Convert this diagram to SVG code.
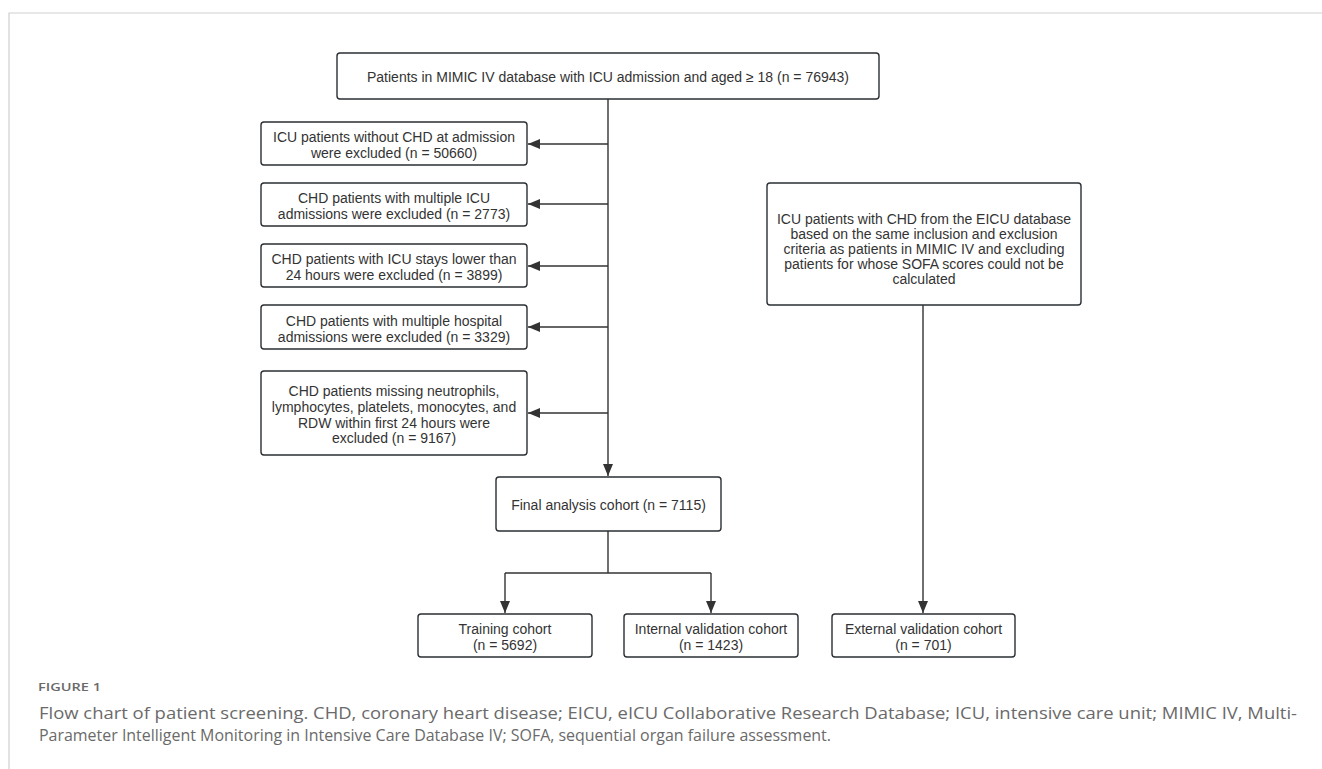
<svg xmlns="http://www.w3.org/2000/svg" width="1322" height="769" viewBox="0 0 1322 769">
<defs>
<style>
.box{fill:#fff;stroke:#2b2f33;stroke-width:1.4}
.t{font-family:"Liberation Sans",Arial,sans-serif;font-size:14px;fill:#333;text-anchor:middle}
.ln{fill:none;stroke:#333;stroke-width:1.4}
.cap{font-family:"Open Sans","Liberation Sans",sans-serif;fill:#6a6a6a}
</style>
<marker id="ah" viewBox="0 0 12 10" refX="12" refY="5" markerWidth="12" markerHeight="10" markerUnits="userSpaceOnUse" orient="auto">
<path d="M0,0 L12,5 L0,10 Z" fill="#333"/>
</marker>
</defs>
<rect width="1322" height="769" fill="#fff"/>
<path d="M9,769 V13 H1322" fill="none" stroke="#cfcfcf" stroke-width="1.2"/>

<g id="connectors">
<path class="ln" d="M608,99 V476" marker-end="url(#ah)"/>
<path class="ln" d="M608,144 H528" marker-end="url(#ah)"/>
<path class="ln" d="M608,204 H528" marker-end="url(#ah)"/>
<path class="ln" d="M608,266 H528" marker-end="url(#ah)"/>
<path class="ln" d="M608,327 H528" marker-end="url(#ah)"/>
<path class="ln" d="M608,413 H528" marker-end="url(#ah)"/>
<path class="ln" d="M608,531 V573"/>
<path class="ln" d="M505,573 H711"/>
<path class="ln" d="M505,573 V613" marker-end="url(#ah)"/>
<path class="ln" d="M711,573 V613" marker-end="url(#ah)"/>
<path class="ln" d="M923,305 V613" marker-end="url(#ah)"/>
</g>

<g id="n-top">
<rect class="box" x="337" y="53" width="542" height="46" rx="3"/>
<text class="t" x="608" y="82">Patients in MIMIC IV database with ICU admission and aged ≥ 18 (n = 76943)</text>
</g>
<g id="n-ex1">
<rect class="box" x="261" y="122" width="266" height="43" rx="3"/>
<text class="t" x="394" y="142">ICU patients without CHD at admission</text>
<text class="t" x="394" y="158">were excluded (n = 50660)</text>
</g>
<g id="n-ex2">
<rect class="box" x="261" y="183" width="266" height="43" rx="3"/>
<text class="t" x="394" y="203">CHD patients with multiple ICU</text>
<text class="t" x="394" y="219">admissions were excluded (n = 2773)</text>
</g>
<g id="n-ex3">
<rect class="box" x="261" y="244" width="266" height="43" rx="3"/>
<text class="t" x="394" y="264">CHD patients with ICU stays lower than</text>
<text class="t" x="394" y="280">24 hours were excluded (n = 3899)</text>
</g>
<g id="n-ex4">
<rect class="box" x="261" y="305" width="266" height="44" rx="3"/>
<text class="t" x="394" y="325.5">CHD patients with multiple hospital</text>
<text class="t" x="394" y="341.5">admissions were excluded (n = 3329)</text>
</g>
<g id="n-ex5">
<rect class="box" x="261" y="371" width="266" height="84" rx="3"/>
<text class="t" x="394" y="396">CHD patients missing neutrophils,</text>
<text class="t" x="394" y="412">lymphocytes, platelets, monocytes, and</text>
<text class="t" x="394" y="427.5">RDW within first 24 hours were</text>
<text class="t" x="394" y="443">excluded (n = 9167)</text>
</g>
<g id="n-final">
<rect class="box" x="496" y="477" width="225" height="54" rx="3"/>
<text class="t" x="608.5" y="510">Final analysis cohort (n = 7115)</text>
</g>
<g id="n-train">
<rect class="box" x="418" y="614" width="174" height="43" rx="3"/>
<text class="t" x="505" y="634">Training cohort</text>
<text class="t" x="505" y="650">(n = 5692)</text>
</g>
<g id="n-internal">
<rect class="box" x="624" y="614" width="174" height="43" rx="3"/>
<text class="t" x="711" y="634">Internal validation cohort</text>
<text class="t" x="711" y="650">(n = 1423)</text>
</g>
<g id="n-eicu">
<rect class="box" x="767" y="183" width="314" height="122" rx="3"/>
<text class="t" x="924" y="223.5">ICU patients with CHD from the EICU database</text>
<text class="t" x="924" y="238.5">based on the same inclusion and exclusion</text>
<text class="t" x="924" y="253.5">criteria as patients in MIMIC IV and excluding</text>
<text class="t" x="924" y="268.5">patients for whose SOFA scores could not be</text>
<text class="t" x="924" y="283.5">calculated</text>
</g>
<g id="n-external">
<rect class="box" x="832" y="614" width="183" height="43" rx="3"/>
<text class="t" x="923.5" y="634">External validation cohort</text>
<text class="t" x="923.5" y="650">(n = 701)</text>
</g>

<text class="cap" x="38" y="691" font-size="11" font-weight="600" textLength="63" lengthAdjust="spacingAndGlyphs">FIGURE 1</text>
<text class="cap" x="39" y="719" font-size="16" textLength="1258" lengthAdjust="spacingAndGlyphs">Flow chart of patient screening. CHD, coronary heart disease; EICU, eICU Collaborative Research Database; ICU, intensive care unit; MIMIC IV, Multi-</text>
<text class="cap" x="39" y="741" font-size="16" textLength="792" lengthAdjust="spacingAndGlyphs">Parameter Intelligent Monitoring in Intensive Care Database IV; SOFA, sequential organ failure assessment.</text>
</svg>
